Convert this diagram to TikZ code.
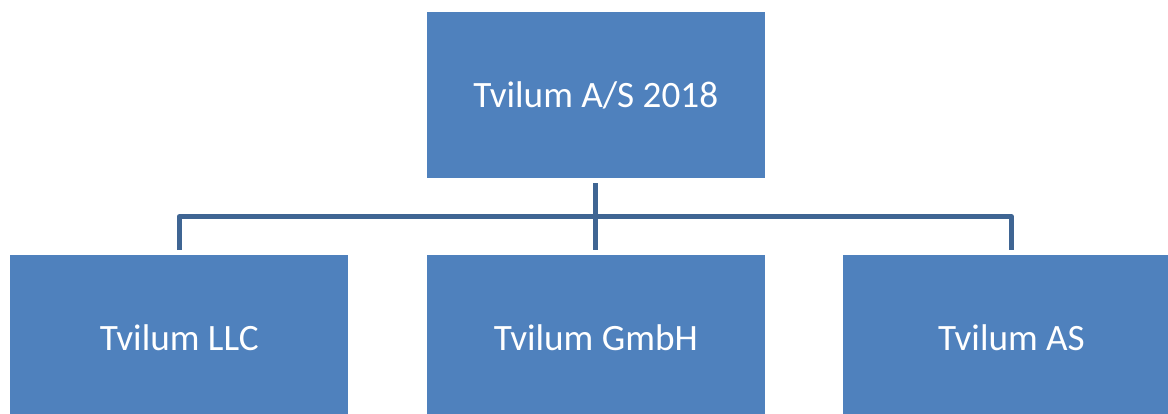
\documentclass[tikz,border=0pt]{standalone}
\usepackage{fontspec}
\setmainfont{Carlito}
\usetikzlibrary{positioning,calc}
\definecolor{boxblue}{HTML}{4F81BD}
\definecolor{linkblue}{HTML}{3F6593}

\begin{document}
\begin{tikzpicture}
[x=0.75pt,y=-0.75pt,
 unit/.style={fill=boxblue,text=white,minimum width=253.5pt,minimum height=124.5pt,
   inner sep=0pt,font=\fontsize{27.9}{33}\selectfont},
 link/.style={draw=linkblue,line width=3.5pt,line join=round}]
\useasboundingbox (0,0) rectangle (1168,414);
\draw (595.8,95) node[unit] (parent) {Tvilum A/S 2018};
\draw (179.3,338) node[unit] (llc) {Tvilum LLC};
\draw (595.8,338) node[unit] (gmbh) {Tvilum GmbH};
\draw (1011.5,338) node[unit] (as) {Tvilum AS};
\coordinate (bus) at (595.8,216.5);
\draw[link]([yshift=-3.75pt]parent.south)--([yshift=3.75pt]gmbh.north);
\draw[link]([yshift=3.75pt]llc.north)|-(bus)-|([yshift=3.75pt]as.north);
\end{tikzpicture}
\end{document}
